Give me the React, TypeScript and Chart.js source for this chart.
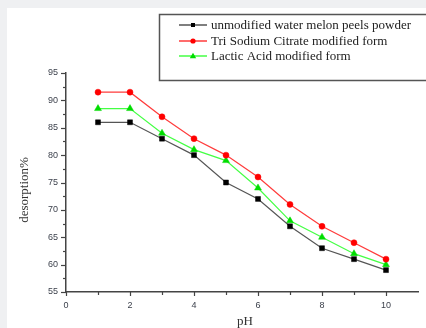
import React, { useEffect, useRef } from "react";
import { Chart, registerables } from "chart.js";

Chart.register(...registerables);

const pH = [1, 2, 3, 4, 5, 6, 7, 8, 9, 10];
const unmodified = [86, 86, 83, 80, 75, 72, 67, 63, 61, 59];
const triSodium = [91.5, 91.5, 87, 83, 80, 76, 71, 67, 64, 61];
const lacticAcid = [88.5, 88.5, 84, 81, 79, 74, 68, 65, 62, 60];

const seriesNames = [
  "unmodified water melon peels powder",
  "Tri Sodium Citrate modified form",
  "Lactic Acid modified form",
];
const xTitle = "pH";
const yTitle = "desorption%";

const lineColors = ["#555555", "#ff3b3b", "#44ff44"];
const markColors = ["#000000", "#ff0000", "#00dd00"];
const markStyles = ["rect", "circle", "triangle"] as const;

const overlay = {
  id: "overlay",
  afterDraw(chart: any) {
    const ctx = chart.ctx as CanvasRenderingContext2D;
    const xs = chart.scales.x;
    const ys = chart.scales.y;
    const area = chart.chartArea;
    ctx.save();
    // ticks
    ctx.strokeStyle = "#444";
    ctx.lineWidth = 1.2;
    for (let v = 0; v <= 10; v += 1) {
      const px = Math.round(xs.getPixelForValue(v)) + 0.5;
      const len = v % 2 === 0 ? 4 : 3;
      ctx.beginPath();
      ctx.moveTo(px, area.bottom);
      ctx.lineTo(px, area.bottom + len);
      ctx.stroke();
    }
    for (let v = 55; v <= 95; v += 2.5) {
      const py = Math.round(ys.getPixelForValue(v)) + 0.5;
      const len = v % 5 === 0 ? 5 : 3;
      ctx.beginPath();
      ctx.moveTo(area.left, py);
      ctx.lineTo(area.left - len, py);
      ctx.stroke();
    }
    // axis titles
    ctx.fillStyle = "#333";
    ctx.font = "13px 'Liberation Serif', serif";
    ctx.textAlign = "center";
    ctx.textBaseline = "middle";
    ctx.fillText(xTitle, (area.left + area.right) / 2 + 3, 314);
    ctx.save();
    ctx.translate(18, 182);
    ctx.rotate(-Math.PI / 2);
    ctx.fillText(yTitle, 0, 0);
    ctx.restore();
    // legend
    ctx.strokeStyle = "#555";
    ctx.lineWidth = 1.5;
    ctx.strokeRect(152.5, 6.5, 400, 66);
    const rows = [17, 33, 48];
    for (let i = 0; i < 3; i++) {
      const y = rows[i];
      ctx.strokeStyle = lineColors[i];
      ctx.lineWidth = 1.5;
      ctx.beginPath();
      ctx.moveTo(172, y);
      ctx.lineTo(200, y);
      ctx.stroke();
      ctx.fillStyle = markColors[i];
      const cx = 186;
      if (i === 0) {
        ctx.fillRect(cx - 2, y - 2, 4, 4);
      } else if (i === 1) {
        ctx.beginPath();
        ctx.arc(cx, y, 2.6, 0, Math.PI * 2);
        ctx.fill();
      } else {
        ctx.beginPath();
        ctx.moveTo(cx, y - 3.2);
        ctx.lineTo(cx + 3.2, y + 2.2);
        ctx.lineTo(cx - 3.2, y + 2.2);
        ctx.closePath();
        ctx.fill();
      }
      ctx.fillStyle = "#222";
      ctx.font = "13px 'Liberation Serif', serif";
      ctx.textAlign = "left";
      ctx.textBaseline = "middle";
      ctx.fillText(seriesNames[i], 204, y + 0.5);
    }
    ctx.restore();
  },
};

export default function App() {
  const ref = useRef<HTMLCanvasElement>(null);
  useEffect(() => {
    if (!ref.current) return;
    const allSeries = [unmodified, triSodium, lacticAcid];
    const chart = new Chart(ref.current, {
      type: "line",
      data: {
        datasets: allSeries.map((s, i) => ({
          label: seriesNames[i],
          data: pH.map((x, j) => ({ x, y: s[j] })),
          borderColor: lineColors[i],
          borderWidth: 1.2,
          backgroundColor: markColors[i],
          pointBackgroundColor: markColors[i],
          pointBorderColor: markColors[i],
          pointBorderWidth: 0.5,
          pointStyle: markStyles[i],
          pointRadius: i === 0 ? 3.5 : i === 1 ? 3 : 4,
          tension: 0,
        })),
      },
      options: {
        animation: false,
        responsive: false,
        maintainAspectRatio: false,
        layout: { padding: { top: 65, right: 3, left: 0, bottom: 0 } },
        plugins: { legend: { display: false }, tooltip: { enabled: false } },
        scales: {
          x: {
            type: "linear",
            min: 0,
            max: 11,
            grid: { display: false, drawTicks: false },
            border: { display: true, color: "#444", width: 1.5 },
            afterFit: (s: any) => {
              s.height = 36;
            },
            ticks: {
              stepSize: 1,
              padding: 8,
              color: "#3a3f4a",
              font: { family: "'Liberation Sans', sans-serif", size: 9 },
              maxRotation: 0,
              autoSkip: false,
              callback: (v: any) => (Number(v) % 2 === 0 && Number(v) <= 10 ? String(v) : ""),
            },
          },
          y: {
            type: "linear",
            min: 55,
            max: 95,
            grid: { display: false, drawTicks: false },
            border: { display: true, color: "#444", width: 1.5 },
            afterFit: (s: any) => {
              s.width = 59;
            },
            ticks: {
              stepSize: 2.5,
              padding: 8,
              color: "#3a3f4a",
              font: { family: "'Liberation Sans', sans-serif", size: 9 },
              autoSkip: false,
              callback: (v: any) => (Number(v) % 5 === 0 ? String(v) : ""),
            },
          },
        },
      },
      plugins: [overlay],
    });
    return () => chart.destroy();
  }, []);
  return (
    <div style={{ position: "fixed", left: 0, top: 0, width: 426, height: 328, background: "#eff0f2", overflow: "hidden" }}>
      <canvas
        ref={ref}
        width={419}
        height={320}
        style={{ position: "absolute", left: 7, top: 8, width: 419, height: 320, background: "#ffffff" }}
      />
    </div>
  );
}
